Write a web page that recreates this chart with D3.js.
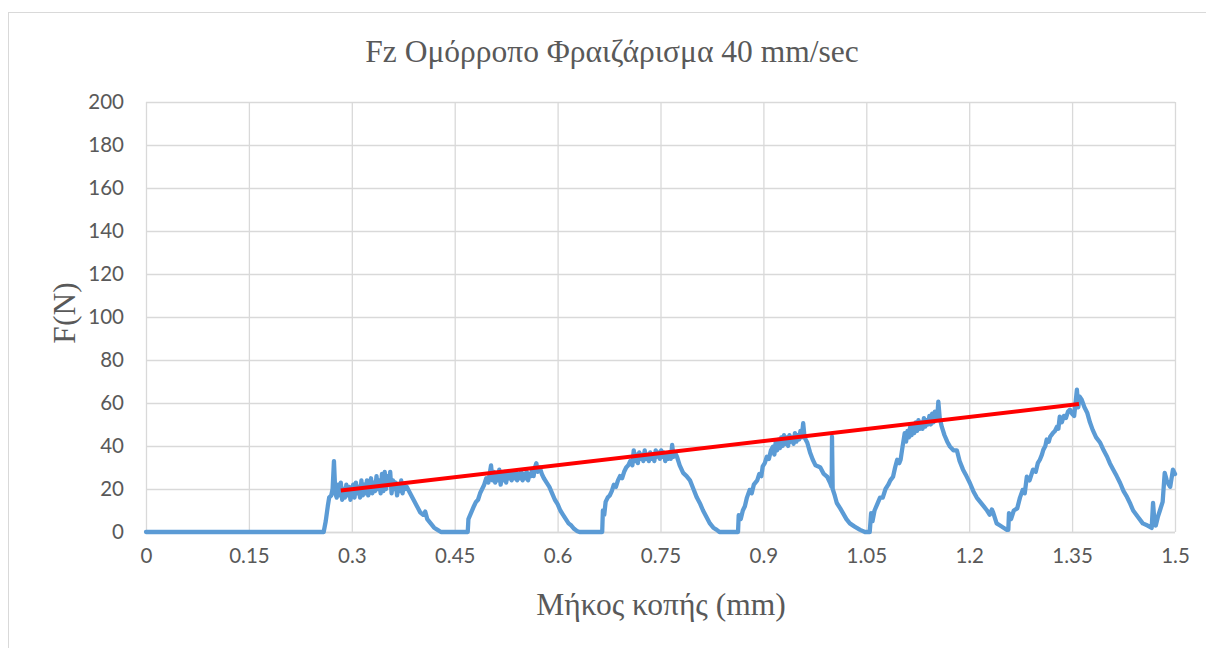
<!DOCTYPE html>
<html>
<head>
<meta charset="utf-8">
<script src="https://cdn.jsdelivr.net/npm/d3@7"></script>
<style>
  html, body { margin: 0; padding: 0; background: #ffffff; }
  svg { display: block; }
</style>
</head>
<body>
<svg id="chart" width="1206" height="648"></svg>
<script>
// Fz force vs cutting length, up-milling at 40 mm/sec
const chartTitle = "Fz Ομόρροπο Φραιζάρισμα 40 mm/sec";
const xTitle = "Μήκος κοπής (mm)";
const yTitle = "F(N)";

const xTicks = [0, 0.15, 0.3, 0.45, 0.6, 0.75, 0.9, 1.05, 1.2, 1.35, 1.5];
const yTicks = [0, 20, 40, 60, 80, 100, 120, 140, 160, 180, 200];

// measured force samples: [length (mm), force (N)]
const forceSamples = [
  [0, 0], [0.259, 0],
  [0.262, 5], [0.265, 12], [0.267, 16], [0.270, 17], [0.272, 20], [0.274, 33], [0.276, 18],
  [0.278, 16], [0.280, 22], [0.282, 17], [0.284, 23], [0.286, 15], [0.288, 20], [0.290, 16],
  [0.292, 22], [0.294, 17], [0.296, 21], [0.298, 15], [0.300, 19], [0.302, 22], [0.304, 16],
  [0.306, 23], [0.308, 18], [0.310, 21], [0.312, 16], [0.314, 24], [0.316, 17], [0.318, 22],
  [0.320, 18], [0.322, 24], [0.324, 17], [0.326, 21], [0.328, 25], [0.330, 18], [0.332, 23],
  [0.334, 19], [0.336, 26], [0.338, 20], [0.340, 24], [0.342, 18], [0.344, 27], [0.346, 19],
  [0.348, 28], [0.350, 20], [0.352, 26], [0.354, 22], [0.356, 28], [0.358, 18], [0.360, 24],
  [0.362, 20], [0.364, 23], [0.366, 17], [0.368, 22], [0.370, 19], [0.372, 24], [0.374, 18],
  [0.376, 22], [0.378, 20], [0.380, 21],
  [0.385, 18], [0.390, 15], [0.395, 12], [0.400, 9], [0.404, 8], [0.407, 9.5], [0.410, 6],
  [0.415, 4], [0.420, 2], [0.425, 1], [0.430, 0],
  [0.469, 0],
  [0.470, 6], [0.474, 9], [0.478, 12], [0.481, 14], [0.484, 15], [0.487, 18], [0.490, 20],
  [0.493, 22], [0.496, 25], [0.499, 23], [0.501, 27], [0.503, 31], [0.505, 24], [0.507, 28],
  [0.509, 23], [0.511, 27], [0.513, 24], [0.515, 29], [0.517, 22], [0.519, 27], [0.521, 24],
  [0.523, 28], [0.525, 23], [0.527, 27], [0.529, 25], [0.531, 28], [0.533, 24], [0.535, 27],
  [0.537, 25], [0.539, 28], [0.541, 24], [0.543, 27], [0.545, 25], [0.547, 28], [0.549, 24],
  [0.551, 27], [0.553, 25], [0.555, 28], [0.557, 24], [0.559, 27], [0.561, 26], [0.563, 29],
  [0.565, 26], [0.567, 30], [0.569, 32], [0.571, 28], [0.574, 30], [0.577, 27],
  [0.580, 25], [0.584, 23], [0.588, 21], [0.592, 18], [0.596, 15], [0.600, 13], [0.604, 10],
  [0.608, 8], [0.612, 6], [0.616, 4], [0.620, 3], [0.624, 1.5], [0.628, 0.5], [0.632, 0],
  [0.665, 0],
  [0.666, 10], [0.668, 8], [0.670, 14], [0.673, 16], [0.676, 17], [0.679, 19], [0.682, 22],
  [0.685, 21], [0.688, 24], [0.691, 26], [0.694, 25], [0.697, 28], [0.700, 30], [0.703, 31],
  [0.706, 33], [0.709, 31], [0.711, 38], [0.713, 33], [0.715, 36], [0.717, 32], [0.719, 37],
  [0.721, 34], [0.723, 36], [0.725, 33], [0.727, 38], [0.729, 34], [0.731, 36], [0.733, 33],
  [0.735, 37], [0.737, 34], [0.739, 36], [0.741, 33], [0.743, 38], [0.745, 35], [0.747, 37],
  [0.749, 34], [0.751, 38], [0.753, 35], [0.755, 37], [0.757, 33], [0.759, 36], [0.761, 34],
  [0.763, 37], [0.765, 34], [0.767, 40.5], [0.769, 35], [0.771, 37], [0.774, 35],
  [0.778, 31], [0.783, 27.5], [0.788, 26], [0.793, 24], [0.798, 20], [0.803, 16], [0.808, 13],
  [0.812, 10], [0.817, 7], [0.822, 4], [0.827, 2], [0.832, 1], [0.836, 0],
  [0.863, 0],
  [0.864, 7.8], [0.867, 6], [0.870, 10], [0.873, 12], [0.876, 16], [0.880, 19.6], [0.883, 18],
  [0.886, 22], [0.891, 24], [0.894, 27], [0.897, 26], [0.899, 30.5], [0.902, 32], [0.905, 35],
  [0.908, 34], [0.911, 38], [0.914, 39.7], [0.916, 36], [0.918, 42], [0.920, 38], [0.922, 43],
  [0.924, 39], [0.926, 44], [0.928, 40], [0.930, 45], [0.932, 41], [0.934, 44], [0.936, 40],
  [0.938, 45], [0.940, 42], [0.942, 44], [0.944, 41], [0.946, 46], [0.948, 42], [0.950, 45],
  [0.952, 43], [0.954, 47], [0.956, 44], [0.958, 50.6], [0.960, 44],
  [0.964, 41.5], [0.968, 37], [0.972, 33.6], [0.976, 31], [0.980, 30.5], [0.983, 30],
  [0.988, 27], [0.993, 25.7], [0.997, 23], [0.9995, 21], [1.000, 44.3], [1.001, 20],
  [1.004, 17], [1.007, 13.5], [1.012, 11], [1.016, 8.8], [1.021, 6], [1.026, 4],
  [1.033, 2.5], [1.041, 1], [1.048, 0], [1.055, 0],
  [1.057, 8.8], [1.059, 5], [1.062, 10], [1.066, 13], [1.070, 16], [1.074, 16], [1.078, 20],
  [1.082, 22], [1.085, 24], [1.089, 25.7], [1.092, 30], [1.095, 33.6], [1.098, 32], [1.100, 33.6],
  [1.103, 40], [1.106, 46], [1.108, 42], [1.110, 47], [1.112, 44], [1.114, 49], [1.116, 45],
  [1.118, 50], [1.120, 46], [1.122, 51], [1.124, 47], [1.126, 52], [1.128, 48], [1.130, 51],
  [1.132, 48], [1.134, 53], [1.136, 49], [1.138, 52], [1.140, 50], [1.142, 54], [1.144, 50],
  [1.146, 55], [1.148, 51], [1.150, 56], [1.152, 52], [1.154, 56], [1.155, 60.6], [1.157, 53],
  [1.160, 49], [1.164, 45], [1.168, 42], [1.172, 39.7], [1.177, 38], [1.182, 38],
  [1.186, 33], [1.191, 29], [1.196, 26], [1.201, 22.8], [1.206, 19], [1.211, 16],
  [1.216, 14], [1.221, 12], [1.226, 10], [1.230, 8], [1.233, 10.5], [1.235, 9],
  [1.240, 4], [1.245, 3], [1.250, 2], [1.255, 1],
  [1.257, 1], [1.258, 8.8], [1.261, 6], [1.265, 10], [1.270, 11], [1.274, 16], [1.278, 19.6],
  [1.281, 18], [1.284, 25.7], [1.288, 24], [1.293, 29], [1.297, 28], [1.300, 32], [1.303, 33.6],
  [1.306, 36], [1.308, 38.2], [1.311, 40], [1.313, 43], [1.316, 42], [1.318, 44.3], [1.322, 46],
  [1.325, 47], [1.328, 49], [1.330, 48], [1.332, 53.6], [1.335, 51], [1.338, 54], [1.341, 53],
  [1.344, 56], [1.347, 56.9], [1.350, 55], [1.353, 54], [1.355, 60], [1.357, 66.2],
  [1.359, 58], [1.361, 63], [1.364, 61.5],
  [1.368, 58], [1.372, 55.5], [1.376, 51], [1.380, 47.5], [1.385, 44], [1.391, 41.5],
  [1.396, 38], [1.401, 35], [1.405, 32], [1.410, 29], [1.415, 26], [1.420, 22.8],
  [1.425, 19], [1.430, 16.3], [1.435, 13], [1.439, 10], [1.446, 7], [1.453, 4],
  [1.460, 3], [1.466, 1.9],
  [1.468, 13.5], [1.470, 5], [1.472, 3], [1.475, 7], [1.478, 10], [1.482, 14],
  [1.485, 27.5], [1.488, 24], [1.491, 22], [1.493, 21], [1.495, 25], [1.497, 29], [1.500, 27]
];

// linear trend through the force peaks
const trendPoints = [[0.284, 19.3], [1.36, 59.5]];

const svg = d3.select("#chart");
const W = 1206, H = 648;
const margin = { left: 146, top: 102, right: 1206 - 1175, bottom: 648 - 532 };
const plotW = W - margin.left - margin.right;
const plotH = H - margin.top - margin.bottom;

const textColor = "#595959";
const gridColor = "#d9d9d9";
const serif = "'Liberation Serif', 'Times New Roman', serif";
const sans = "Lato, 'Liberation Sans', sans-serif";

// outer chart frame
svg.append("rect")
  .attr("x", 8.5).attr("y", 12.5)
  .attr("width", 1210).attr("height", 660)
  .attr("fill", "#ffffff")
  .attr("stroke", gridColor).attr("stroke-width", 1);

const x = d3.scaleLinear().domain([0, 1.5]).range([0, plotW]);
const y = d3.scaleLinear().domain([0, 200]).range([plotH, 0]);

const g = svg.append("g").attr("transform", `translate(${margin.left},${margin.top})`);

// horizontal gridlines with y tick labels
const yAxis = d3.axisLeft(y)
  .tickValues(yTicks)
  .tickSize(-plotW)
  .tickPadding(22)
  .tickFormat(d3.format("d"));
const gy = g.append("g").call(yAxis);
gy.select(".domain").remove();
gy.selectAll(".tick line").attr("stroke", gridColor).attr("stroke-width", 1.3);
gy.selectAll(".tick text")
  .attr("fill", textColor)
  .style("font-family", sans)
  .style("font-size", "20.5px");

// vertical gridlines with x tick labels
const xAxis = d3.axisBottom(x)
  .tickValues(xTicks)
  .tickSize(-plotH)
  .tickPadding(16)
  .tickFormat(d => String(d));
const gx = g.append("g").attr("transform", `translate(0,${plotH})`).call(xAxis);
gx.select(".domain").remove();
gx.selectAll(".tick line").attr("stroke", gridColor).attr("stroke-width", 1.3);
gx.selectAll(".tick text")
  .attr("fill", textColor)
  .attr("dy", "0.71em")
  .style("font-family", sans)
  .style("font-size", "20.5px");

// bottom axis line
g.append("line")
  .attr("x1", 0).attr("x2", plotW)
  .attr("y1", plotH + 0.5).attr("y2", plotH + 0.5)
  .attr("stroke", gridColor).attr("stroke-width", 1.5);

// force curve
const line = d3.line().x(d => x(d[0])).y(d => y(d[1]));
g.append("path")
  .datum(forceSamples)
  .attr("d", line)
  .attr("fill", "none")
  .attr("stroke", "#5B9BD5")
  .attr("stroke-width", 4.3)
  .attr("stroke-linejoin", "round")
  .attr("stroke-linecap", "round");

// trend line
g.append("path")
  .datum(trendPoints)
  .attr("d", line)
  .attr("fill", "none")
  .attr("stroke", "#FF0000")
  .attr("stroke-width", 4);

// chart title
svg.append("text")
  .attr("x", 612).attr("y", 62)
  .attr("text-anchor", "middle")
  .attr("fill", textColor)
  .style("font-family", serif)
  .style("font-size", "31.5px")
  .text(chartTitle);

// x axis title
svg.append("text")
  .attr("x", 661).attr("y", 615)
  .attr("text-anchor", "middle")
  .attr("fill", textColor)
  .style("font-family", serif)
  .style("font-size", "31.5px")
  .text(xTitle);

// y axis title
svg.append("text")
  .attr("transform", "translate(75,313) rotate(-90)")
  .attr("text-anchor", "middle")
  .attr("fill", textColor)
  .style("font-family", serif)
  .style("font-size", "31.5px")
  .text(yTitle);
</script>
</body>
</html>
